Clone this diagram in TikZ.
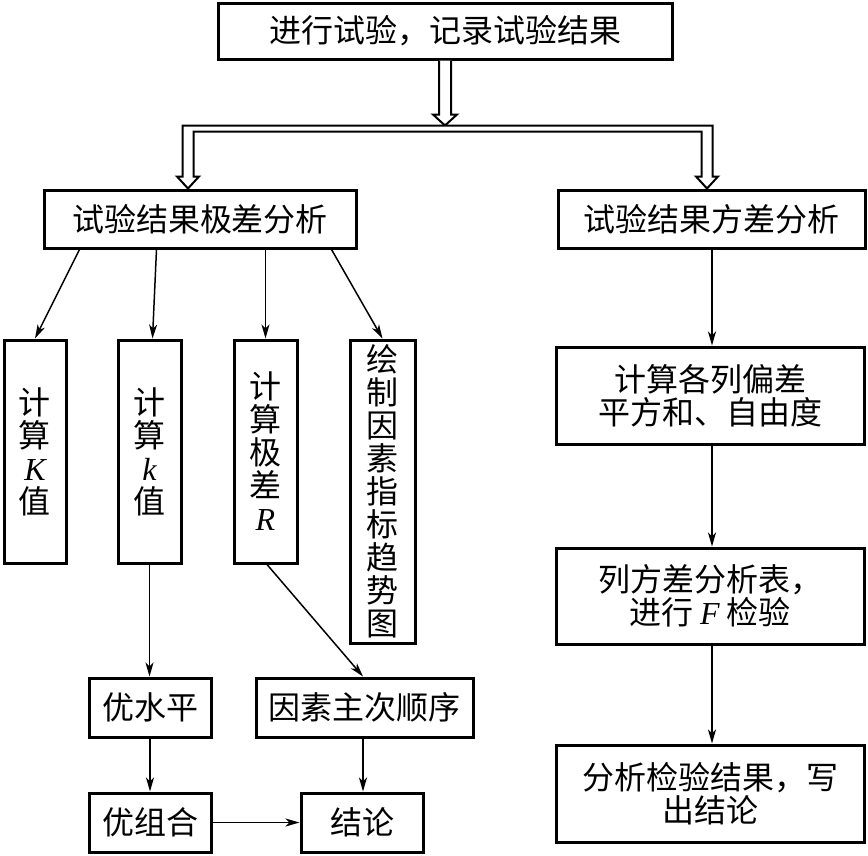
\documentclass[tikz,border=0pt]{standalone}
\usepackage{fontspec}
\setmainfont{Noto Sans CJK SC}
\newfontfamily\latinit{Liberation Serif}
\newcommand{\vi}[1]{{\latinit\itshape #1}}
\usetikzlibrary{arrows.meta,calc}
\tikzset{
  box/.style={draw, line width=3pt, inner sep=0pt, align=center, font=\fontsize{32}{33}\selectfont},
  arr/.style={line width=1.5pt, -{Stealth[length=14pt,width=8pt,inset=4pt]}},
  dbl/.style={line width=2pt, fill=white, line join=miter},
}
\begin{document}
\begin{tikzpicture}[x=1pt,y=-1pt]
\useasboundingbox (0,0) rectangle (868,855);
% main boxes
\node[box, minimum width=454, minimum height=56] (top) at (445,31) {进行试验，记录试验结果};
\node[box, minimum width=312, minimum height=58] (lbox) at (200,219) {试验结果极差分析};
\node[box, minimum width=307, minimum height=58] (rbox) at (711.5,219) {试验结果方差分析};
% left branch
\node[box, minimum width=62, minimum height=223] (K) at (35,451.5) {计\\算\\\vi{K}\\值};
\node[box, minimum width=63, minimum height=223] (k) at (149.5,451.5) {计\\算\\\vi{k}\\值};
\node[box, minimum width=63, minimum height=223] (R) at (265.5,451.5) {计\\算\\极\\差\\\vi{R}};
\node[box, minimum width=65, minimum height=303] (trend) at (382.5,491.5) {绘\\制\\因\\素\\指\\标\\趋\\势\\图};
\node[box, minimum width=122, minimum height=59] (ysp) at (150,707.5) {优水平};
\node[box, minimum width=217, minimum height=59] (order) at (364.5,707.5) {因素主次顺序};
\node[box, minimum width=122, minimum height=59] (yzh) at (150,822.5) {优组合};
\node[box, minimum width=122, minimum height=59] (concl) at (362,822.5) {结论};
% right branch
\node[box, minimum width=308, minimum height=97] (r2) at (710,395.5) {计算各列偏差\\平方和、自由度};
\node[box, minimum width=308, minimum height=96] (r3) at (710,596) {列方差分析表，\\进行 \vi{F} 检验};
\node[box, minimum width=308, minimum height=97] (r4) at (710,793.5) {分析检验结果，写\\出结论};
% double arrows
\coordinate (la) at ($(lbox.north west)+(145.5,0)$);
\coordinate (ra) at ($(rbox.north west)+(150.5,0)$);
\coordinate (bartop) at ($(la)+(0,-63)$);
\draw[dbl] ($(top.south)+(-6,0)$) -- ++(0,54) -- ++(-6,0) -- (top.south |- bartop)
  -- ($(top.south)+(12,54)$) -- ($(top.south)+(6,54)$) -- ($(top.south)+(6,0)$);
\draw[dbl] ($(la)+(-5.5,-63)$) -- ($(ra)+(5.5,-63)$) -- ($(ra)+(5.5,-12)$) -- ($(ra)+(11,-12)$)
  -- (ra) -- ($(ra)+(-11,-12)$) -- ($(ra)+(-5.5,-12)$) -- ($(ra)+(-5.5,-57)$)
  -- ($(la)+(5.5,-57)$) -- ($(la)+(5.5,-12)$) -- ($(la)+(11,-12)$) -- (la)
  -- ($(la)+(-11,-12)$) -- ($(la)+(-5.5,-12)$) -- cycle;
% thin arrows
\draw[arr] ($(lbox.south west)+(37,0)$) -- (K.north);
\draw[arr] ($(lbox.south west)+(114,0)$) -- ($(k.north)+(3,0)$);
\draw[arr] (R.north |- lbox.south) -- (R.north);
\draw[arr] ($(lbox.south west)+(289,0)$) -- (trend.north);
\draw[arr] (k.south) -- (k.south |- ysp.north);
\draw[arr] ($(R.south)+(1.5,0)$) -- ($(order.north)+(-1.5,0)$);
\draw[arr] (ysp.south) -- (yzh.north);
\draw[arr] ($(order.south)+(-1.5,0)$) -- ($(concl.north)+(1,0)$);
\draw[arr] (yzh.east) -- (concl.west);
\draw[arr] ($(rbox.south)+(0.5,0)$) -- ($(r2.north)+(2,0)$);
\draw[arr] ($(r2.south)+(2,0)$) -- ($(r3.north)+(2,0)$);
\draw[arr] ($(r3.south)+(2,0)$) -- ($(r4.north)+(2,0)$);
\end{tikzpicture}
\end{document}
